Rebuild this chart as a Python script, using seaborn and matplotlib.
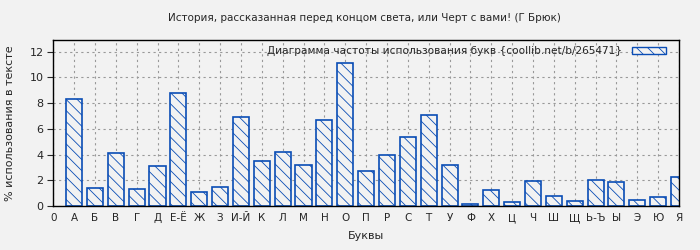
import numpy as np
import matplotlib
matplotlib.use("Agg")
import matplotlib.pyplot as plt
import seaborn as sns
from matplotlib.patches import Patch

letters = ["А", "Б", "В", "Г", "Д", "Е-Ё", "Ж", "З", "И-Й", "К", "Л", "М", "Н", "О", "П",
           "Р", "С", "Т", "У", "Ф", "Х", "Ц", "Ч", "Ш", "Щ", "Ь-Ъ", "Ы", "Э", "Ю", "Я"]
values = [8.33, 1.38, 4.11, 1.30, 3.10, 8.80, 1.07, 1.46, 6.93, 3.49, 4.19, 3.18, 6.69, 11.15, 2.71,
          3.96, 5.36, 7.08, 3.18, 0.16, 1.22, 0.29, 1.95, 0.76, 0.36, 2.00, 1.85, 0.44, 0.68, 2.24]
tick_labels = ["0"] + letters

title = "История, рассказанная перед концом света, или Черт с вами! (Г Брюк)"
legend_label = "Диаграмма частоты использования букв {coollib.net/b/265471}"

sns.set_style("white")
plt.rcParams["font.family"] = ["DejaVu Sans"]
plt.rcParams["hatch.linewidth"] = 0.6

bg = "#f2f2f2"
blue = "#0a4db5"
hatch = "\\\\\\"

fig = plt.figure(figsize=(7, 2.5), dpi=100, facecolor=bg)
ax = fig.add_axes([0.076, 0.176, 0.894, 0.664])
ax.set_facecolor(bg)

positions = np.arange(1, len(letters) + 1)
sns.barplot(x=positions, y=values, native_scale=True, width=0.77, ax=ax,
            color=bg, edgecolor=blue, linewidth=1.2, hatch=hatch, saturation=1)
for p in ax.patches:
    p.set_facecolor(bg)
    p.set_edgecolor(blue)
    p.set_hatch(hatch)

ax.set_xlim(0, 30)
ax.set_ylim(0, 12.9)
ax.set_xticks(range(len(tick_labels)))
ax.set_xticklabels(tick_labels, fontsize=7.5)
ax.set_yticks(range(0, 13, 2))
ax.tick_params(axis="y", labelsize=8, direction="out", length=4, left=True, width=0.8, pad=3)
ax.tick_params(axis="x", length=0, pad=5)

ax.grid(True, which="major", linestyle=(0, (2, 3)), color="#999999", linewidth=0.8)
ax.set_axisbelow(True)
for s in ax.spines.values():
    s.set_visible(True)
    s.set_color("black")
    s.set_linewidth(1)

ax.set_xlabel("Буквы", fontsize=8, labelpad=6)
ax.set_ylabel("% использования в тексте", fontsize=8, labelpad=10)
fig.text(0.52, 0.928, title, ha="center", va="center", fontsize=7.5)

handle = Patch(facecolor=bg, edgecolor=blue, hatch=hatch, linewidth=1)
leg = ax.legend([handle], [legend_label], loc="upper right", frameon=False, markerfirst=False,
                fontsize=7.6, handlelength=3.3, handleheight=0.55, borderaxespad=0.3,
                handletextpad=0.9, borderpad=0.3)
leg.set_bbox_to_anchor((0.99, 1.0), transform=ax.transAxes)

fig.savefig("out.png", dpi=100, facecolor=bg)
